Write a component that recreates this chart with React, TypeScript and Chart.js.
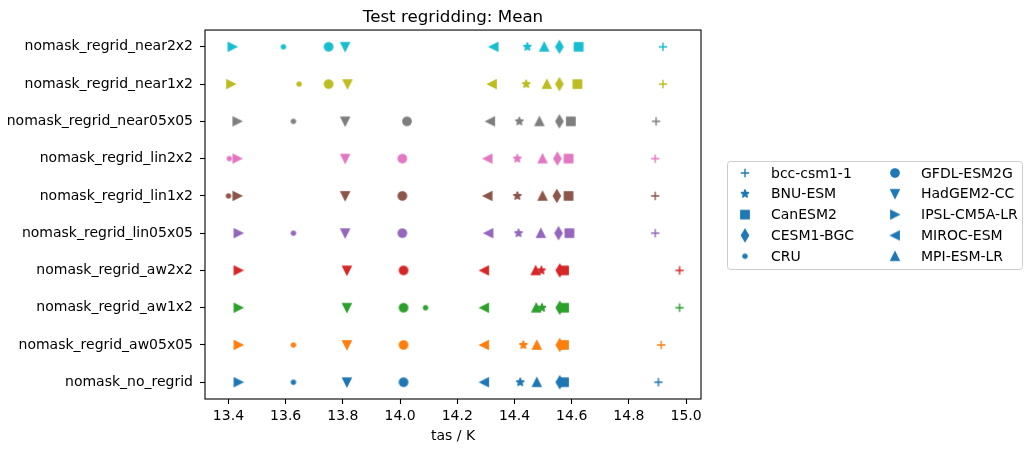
import { useEffect, useRef } from 'react';
import { Chart, registerables } from 'chart.js';

Chart.register(...registerables);

// Experiments, listed bottom-to-top on the y axis
const experiments = [
  'nomask_no_regrid',
  'nomask_regrid_aw05x05',
  'nomask_regrid_aw1x2',
  'nomask_regrid_aw2x2',
  'nomask_regrid_lin05x05',
  'nomask_regrid_lin1x2',
  'nomask_regrid_lin2x2',
  'nomask_regrid_near05x05',
  'nomask_regrid_near1x2',
  'nomask_regrid_near2x2',
];

const experimentColors = [
  '#1f77b4', '#ff7f0e', '#2ca02c', '#d62728', '#9467bd',
  '#8c564b', '#e377c2', '#7f7f7f', '#bcbd22', '#17becf',
];

const models = [
  'bcc-csm1-1', 'BNU-ESM', 'CanESM2', 'CESM1-BGC', 'CRU',
  'GFDL-ESM2G', 'HadGEM2-CC', 'IPSL-CM5A-LR', 'MIROC-ESM', 'MPI-ESM-LR',
];

const modelMarkers = [
  'plus', 'star', 'square', 'thinDiamond', 'point',
  'circle', 'triangleDown', 'triangleRight', 'triangleLeft', 'triangleUp',
];

// Mean tas (K) per model, one value per experiment (same order as `experiments`)
const bccCsm11 = [14.903, 14.913, 14.977, 14.977, 14.892, 14.892, 14.892, 14.895, 14.919, 14.919];
const bnuEsm = [14.42, 14.431, 14.496, 14.494, 14.414, 14.41, 14.41, 14.417, 14.441, 14.445];
const canEsm2 = [14.573, 14.573, 14.573, 14.573, 14.592, 14.589, 14.589, 14.597, 14.62, 14.624];
const cesm1Bgc = [14.558, 14.558, 14.558, 14.558, 14.554, 14.548, 14.55, 14.557, 14.557, 14.557];
const cru = [13.627, 13.627, 14.089, null, 13.627, 13.4, 13.403, 13.627, 13.647, 13.592];
const gfdlEsm2g = [14.012, 14.012, 14.012, 14.012, 14.008, 14.008, 14.008, 14.024, 13.75, 13.75];
const hadGem2Cc = [13.814, 13.814, 13.814, 13.814, 13.808, 13.808, 13.808, 13.808, 13.816, 13.808];
const ipslCm5aLr = [13.435, 13.435, 13.435, 13.435, 13.435, 13.431, 13.431, 13.431, 13.409, 13.414];
const mirocEsm = [14.294, 14.294, 14.294, 14.294, 14.309, 14.306, 14.306, 14.315, 14.321, 14.327];
const mpiEsmLr = [14.478, 14.478, 14.476, 14.474, 14.492, 14.498, 14.498, 14.487, 14.513, 14.504];

const modelValues: (number | null)[][] = [
  bccCsm11, bnuEsm, canEsm2, cesm1Bgc, cru,
  gfdlEsm2g, hadGem2Cc, ipslCm5aLr, mirocEsm, mpiEsmLr,
];

const xTicks = [13.4, 13.6, 13.8, 14.0, 14.2, 14.4, 14.6, 14.8, 15.0];
const xMin = 13.318;
const xMax = 15.052;
const xTitle = 'tas / K';
const chartTitle = 'Test regridding: Mean';

const FONT = '"DejaVu Sans", sans-serif';
const MS = 8.33; // marker size in px
const EW = 1.39; // marker edge width in px

function traceMarker(ctx: CanvasRenderingContext2D, kind: string) {
  const h = MS / 2;
  ctx.beginPath();
  switch (kind) {
    case 'circle':
      ctx.arc(0, 0, h, 0, Math.PI * 2);
      break;
    case 'point':
      ctx.arc(0, 0, h / 2, 0, Math.PI * 2);
      break;
    case 'square':
      ctx.rect(-h, -h, 2 * h, 2 * h);
      break;
    case 'thinDiamond': {
      const dy = MS * Math.SQRT1_2;
      const dx = 0.6 * dy;
      ctx.moveTo(0, -dy);
      ctx.lineTo(dx, 0);
      ctx.lineTo(0, dy);
      ctx.lineTo(-dx, 0);
      ctx.closePath();
      break;
    }
    case 'triangleUp':
      ctx.moveTo(0, -h); ctx.lineTo(h, h); ctx.lineTo(-h, h); ctx.closePath();
      break;
    case 'triangleDown':
      ctx.moveTo(0, h); ctx.lineTo(-h, -h); ctx.lineTo(h, -h); ctx.closePath();
      break;
    case 'triangleRight':
      ctx.moveTo(h, 0); ctx.lineTo(-h, h); ctx.lineTo(-h, -h); ctx.closePath();
      break;
    case 'triangleLeft':
      ctx.moveTo(-h, 0); ctx.lineTo(h, -h); ctx.lineTo(h, h); ctx.closePath();
      break;
    case 'star': {
      const inner = h * 0.381966;
      for (let i = 0; i < 10; i++) {
        const r = i % 2 === 0 ? h : inner;
        const a = -Math.PI / 2 + (i * Math.PI) / 5;
        const px = r * Math.cos(a);
        const py = r * Math.sin(a);
        if (i === 0) ctx.moveTo(px, py); else ctx.lineTo(px, py);
      }
      ctx.closePath();
      break;
    }
    case 'plus':
      ctx.moveTo(-h, 0); ctx.lineTo(h, 0);
      ctx.moveTo(0, -h); ctx.lineTo(0, h);
      break;
  }
}

const markerCache = new Map<string, HTMLCanvasElement>();

function markerImage(kind: string, color: string): HTMLCanvasElement {
  const key = kind + color;
  const cached = markerCache.get(key);
  if (cached) return cached;
  const c = document.createElement('canvas');
  c.width = 24;
  c.height = 24;
  const ctx = c.getContext('2d')!;
  ctx.translate(12, 12);
  traceMarker(ctx, kind);
  ctx.strokeStyle = color;
  ctx.fillStyle = color;
  ctx.lineWidth = EW;
  ctx.lineJoin = kind === 'circle' || kind === 'point' ? 'round' : kind === 'star' ? 'bevel' : 'miter';
  if (kind !== 'plus') ctx.fill();
  ctx.stroke();
  markerCache.set(key, c);
  return c;
}

// Draws the axes frame and the model legend to the right of the plot
const framePlugin = {
  id: 'frameAndLegend',
  afterDatasetsDraw(chart: Chart) {
    const { ctx, chartArea } = chart;
    ctx.save();
    ctx.strokeStyle = '#000';
    ctx.lineWidth = 1.1;
    ctx.strokeRect(chartArea.left, chartArea.top, chartArea.right - chartArea.left, chartArea.bottom - chartArea.top);

    const left = chartArea.right + 26;
    const top = 161;
    const width = 295;
    const height = 108;
    ctx.beginPath();
    ctx.roundRect(left + 0.5, top + 0.5, width, height, 3);
    ctx.fillStyle = 'rgba(255,255,255,0.8)';
    ctx.fill();
    ctx.strokeStyle = '#cccccc';
    ctx.lineWidth = 1;
    ctx.stroke();

    ctx.font = `14px ${FONT}`;
    ctx.fillStyle = '#000';
    ctx.textBaseline = 'middle';
    ctx.textAlign = 'left';
    models.forEach((name, i) => {
      const col = Math.floor(i / 5);
      const row = i % 5;
      const mx = left + 18 + col * 150;
      const my = top + 12 + row * 20.8;
      const img = markerImage(modelMarkers[i], experimentColors[0]);
      ctx.drawImage(img, mx - img.width / 2, my - img.height / 2);
      ctx.fillText(name, mx + 26, my + 1);
    });
    ctx.restore();
  },
};

export default function App() {
  const canvasRef = useRef<HTMLCanvasElement>(null);

  useEffect(() => {
    document.body.style.margin = '0';
    Chart.defaults.font.family = FONT;
    Chart.defaults.color = '#000';

    const datasets = models.map((name, m) => {
      const rows: number[] = [];
      const points: { x: number; y: number }[] = [];
      modelValues[m].forEach((v, r) => {
        if (v !== null) {
          points.push({ x: v, y: r });
          rows.push(r);
        }
      });
      return {
        label: name,
        data: points,
        pointStyle: rows.map((r) => markerImage(modelMarkers[m], experimentColors[r])),
        pointRadius: 5,
        borderWidth: 0,
        showLine: false,
      };
    });

    const chart = new Chart(canvasRef.current!, {
      type: 'scatter',
      data: { datasets },
      plugins: [framePlugin],
      options: {
        animation: false,
        responsive: false,
        events: [],
        layout: { padding: { left: 0, right: 331, top: 0, bottom: 0 } },
        plugins: {
          legend: { display: false },
          tooltip: { enabled: false },
          title: {
            display: true,
            text: chartTitle,
            fullSize: false,
            color: '#000',
            font: { family: FONT, size: 16.7, weight: 'normal' },
            padding: { top: 8, bottom: 2 },
          },
        },
        scales: {
          x: {
            type: 'linear',
            min: xMin,
            max: xMax,
            afterBuildTicks: (scale: any) => {
              scale.ticks = xTicks.map((v) => ({ value: v }));
            },
            afterFit: (scale: any) => {
              scale.height = 54;
            },
            ticks: {
              callback: (v: any) => Number(v).toFixed(1),
              font: { size: 14 },
              color: '#000',
              padding: 4,
              maxRotation: 0,
              autoSkip: false,
            },
            grid: {
              drawOnChartArea: false,
              drawTicks: true,
              tickLength: 5,
              tickWidth: 1.1,
              tickColor: '#000',
            },
            border: { display: false },
            title: {
              display: true,
              text: xTitle,
              color: '#000',
              font: { size: 14 },
              padding: { top: 0, bottom: 8 },
            },
          },
          y: {
            type: 'linear',
            min: -0.45,
            max: experiments.length - 1 + 0.45,
            afterBuildTicks: (scale: any) => {
              scale.ticks = experiments.map((_, i) => ({ value: i }));
            },
            afterFit: (scale: any) => {
              scale.width = 205;
            },
            ticks: {
              callback: (v: any) => experiments[Math.round(Number(v))],
              font: { size: 14 },
              color: '#000',
              padding: 7,
              autoSkip: false,
            },
            grid: {
              drawOnChartArea: false,
              drawTicks: true,
              tickLength: 5,
              tickWidth: 1.1,
              tickColor: '#000',
            },
            border: { display: false },
          },
        },
      },
    });

    return () => chart.destroy();
  }, []);

  return (
    <div style={{ width: 1032, height: 453 }}>
      <canvas ref={canvasRef} width={1032} height={453} style={{ display: 'block' }} />
    </div>
  );
}
